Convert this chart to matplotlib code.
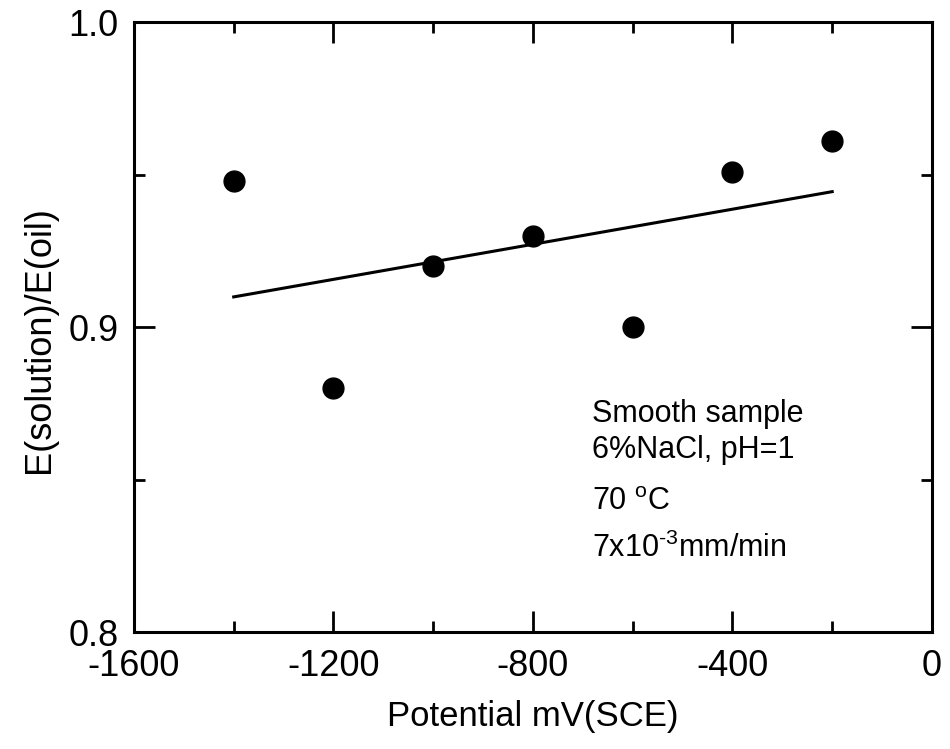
import numpy as np
import matplotlib
matplotlib.use("Agg")
from matplotlib import pyplot as plt
from matplotlib.ticker import MultipleLocator

plt.rcParams['font.family'] = ['Liberation Sans', 'DejaVu Sans']
plt.rcParams['mathtext.fontset'] = 'custom'
plt.rcParams['mathtext.rm'] = 'Liberation Sans'
plt.rcParams['axes.unicode_minus'] = False

# data
potential = [-1400, -1200, -1000, -800, -600, -400, -200]
e_ratio = [0.948, 0.880, 0.920, 0.930, 0.900, 0.951, 0.961]
notes = ["Smooth sample", "6%NaCl, pH=1", "70 $^{\\mathrm{o}}$C", "7x10$^{\\text{-3}}$mm/min"]

fig = plt.figure(figsize=(9.5, 7.49), dpi=100)
ax = fig.add_axes([0.141, 0.156, 0.84, 0.8146])

ax.plot(potential, e_ratio, 'o', color='black', markersize=15)

# linear fit line
k, b = np.polyfit(potential, e_ratio, 1)
xs = np.array([min(potential), max(potential)])
ax.plot(xs, k * xs + b, color='black', lw=2.2)

ax.set_xlim(-1600, 0)
ax.set_ylim(0.8, 1.0)
ax.xaxis.set_major_locator(MultipleLocator(400))
ax.xaxis.set_minor_locator(MultipleLocator(200))
ax.yaxis.set_major_locator(MultipleLocator(0.1))
ax.yaxis.set_minor_locator(MultipleLocator(0.05))
ax.tick_params(which='both', direction='in', top=True, right=True, width=2, labelsize=26)
ax.tick_params(axis='x', pad=12)
ax.tick_params(axis='y', pad=11)
ax.tick_params(which='major', length=15)
ax.tick_params(which='minor', length=8)
for s in ax.spines.values():
    s.set_linewidth(2.2)

ax.set_xlabel('Potential mV(SCE)', fontsize=25, labelpad=12)
ax.set_ylabel('E(solution)/E(oil)', fontsize=26)
ax.yaxis.set_label_coords(-0.097, 0.48)

ys = [0.344, 0.285, 0.200, 0.123]
for t, y in zip(notes, ys):
    ax.text(0.574, y, t, transform=ax.transAxes, fontsize=22, va='baseline', ha='left')

plt.savefig('out.png', dpi=100)
